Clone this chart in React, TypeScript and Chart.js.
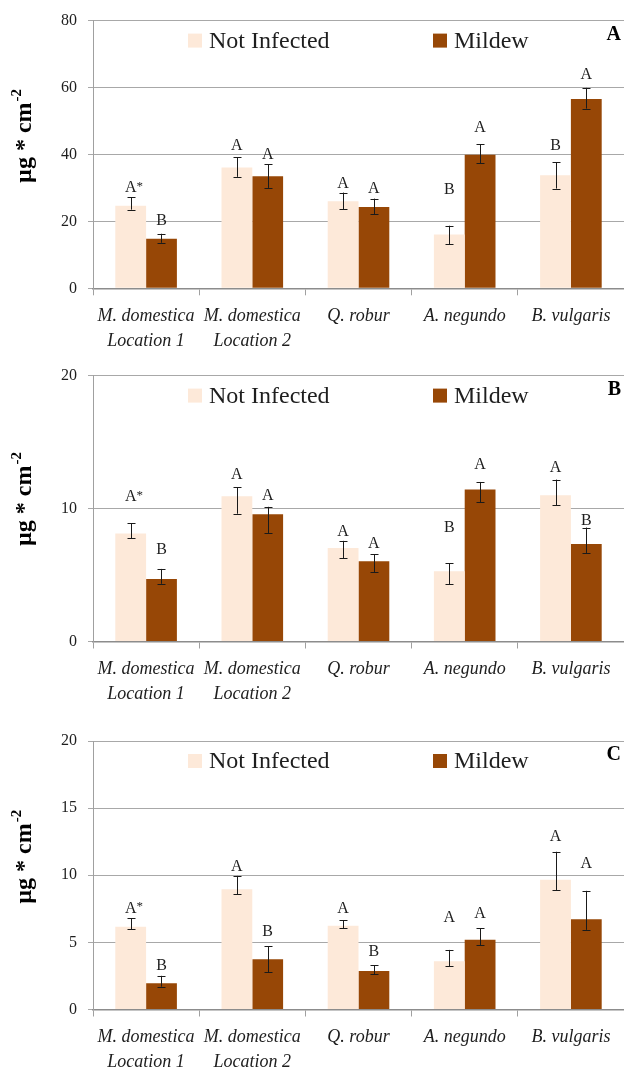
import React, { useEffect, useRef } from 'react';
import { Chart, registerables } from 'chart.js';

Chart.register(...registerables);

// ---------- DATA ----------
const categories: (string | string[])[] = [
  ['M. domestica', 'Location 1'],
  ['M. domestica', 'Location 2'],
  'Q. robur',
  'A. negundo',
  'B. vulgaris',
];
const seriesNames = ['Not Infected', 'Mildew'];

// Panel A
const aNotInfected = [24.7, 36.1, 26.0, 16.1, 33.8];
const aNotInfectedErrUp = [2.5, 3.0, 2.6, 2.6, 3.9];
const aNotInfectedErrDown = [1.2, 2.8, 2.4, 2.9, 4.0];
const aMildew = [14.8, 33.5, 24.3, 39.9, 56.6];
const aMildewErrUp = [1.5, 3.6, 2.5, 3.1, 3.3];
const aMildewErrDown = [1.2, 3.5, 2.2, 2.6, 2.9];
const aNotInfectedLetters = ['A*', 'A', 'A', 'B', 'B'];
const aNotInfectedLetterAt = [29.9, 42.7, 31.3, 29.5, 42.7];
const aMildewLetters = ['B', 'A', 'A', 'A', 'A'];
const aMildewLetterAt = [20.1, 40.0, 29.8, 47.9, 63.9];
const aMax = 80;
const aStep = 20;

// Panel B
const bNotInfected = [8.12, 10.93, 7.03, 5.28, 11.0];
const bNotInfectedErrUp = [0.78, 0.67, 0.54, 0.6, 1.18];
const bNotInfectedErrDown = [0.34, 1.32, 0.75, 0.99, 0.76];
const bMildew = [4.7, 9.57, 6.03, 11.43, 7.33];
const bMildewErrUp = [0.76, 0.56, 0.55, 0.57, 1.24];
const bMildewErrDown = [0.36, 1.42, 0.83, 0.94, 0.67];
const bNotInfectedLetters = ['A*', 'A', 'A', 'B', 'A'];
const bNotInfectedLetterAt = [10.86, 12.55, 8.27, 8.57, 13.1];
const bMildewLetters = ['B', 'A', 'A', 'A', 'B'];
const bMildewLetterAt = [6.9, 10.93, 7.37, 13.3, 9.07];
const bMax = 20;
const bStep = 10;

// Panel C
const cNotInfected = [6.16, 8.96, 6.23, 3.6, 9.67];
const cNotInfectedErrUp = [0.62, 0.99, 0.42, 0.84, 2.08];
const cNotInfectedErrDown = [0.17, 0.36, 0.19, 0.37, 0.79];
const cMildew = [1.95, 3.75, 2.86, 5.2, 6.72];
const cMildewErrUp = [0.56, 0.97, 0.45, 0.87, 2.12];
const cMildewErrDown = [0.25, 0.98, 0.22, 0.4, 0.79];
const cNotInfectedLetters = ['A*', 'A', 'A', 'A', 'A'];
const cNotInfectedLetterAt = [7.52, 10.62, 7.52, 6.85, 12.85];
const cMildewLetters = ['B', 'B', 'B', 'A', 'A'];
const cMildewLetterAt = [3.23, 5.78, 4.3, 7.15, 10.82];
const cMax = 20;
const cStep = 5;

// ---------- STYLE ----------
const FONT = "'Liberation Serif', 'Times New Roman', serif";
const NI_COLOR = '#FDE9D9';
const M_COLOR = '#974706';
const TEXT = '#1e1e1e';

type PanelDef = {
  name: string;
  top: number;
  height: number;
  plotTop: number;
  plotBottom: number;
  max: number;
  step: number;
  values: number[][];
  errUp: number[][];
  errDown: number[][];
  letters: string[][];
  letterAt: number[][];
  titleShift: number;
};

const panels: PanelDef[] = [
  {
    name: 'A', top: 0, height: 355, plotTop: 20, plotBottom: 288.3, max: aMax, step: aStep,
    values: [aNotInfected, aMildew], errUp: [aNotInfectedErrUp, aMildewErrUp],
    errDown: [aNotInfectedErrDown, aMildewErrDown], letters: [aNotInfectedLetters, aMildewLetters],
    letterAt: [aNotInfectedLetterAt, aMildewLetterAt], titleShift: -18,
  },
  {
    name: 'B', top: 355, height: 355, plotTop: 373, plotBottom: 641.5, max: bMax, step: bStep,
    values: [bNotInfected, bMildew], errUp: [bNotInfectedErrUp, bMildewErrUp],
    errDown: [bNotInfectedErrDown, bMildewErrDown], letters: [bNotInfectedLetters, bMildewLetters],
    letterAt: [bNotInfectedLetterAt, bMildewLetterAt], titleShift: -9,
  },
  {
    name: 'C', top: 710, height: 361, plotTop: 741, plotBottom: 1009.5, max: cMax, step: cStep,
    values: [cNotInfected, cMildew], errUp: [cNotInfectedErrUp, cMildewErrUp],
    errDown: [cNotInfectedErrDown, cMildewErrDown], letters: [cNotInfectedLetters, cMildewLetters],
    letterAt: [cNotInfectedLetterAt, cMildewLetterAt], titleShift: -18,
  },
];

const WIDTH = 624;

function makeDecor(p: PanelDef) {
  return {
    id: 'decor' + p.name,
    afterDatasetsDraw(chart: any) {
      const ctx: CanvasRenderingContext2D = chart.ctx;
      const y = chart.scales.y;
      const area = chart.chartArea;
      ctx.save();
      // error bars and significance letters
      for (let d = 0; d < 2; d++) {
        const meta = chart.getDatasetMeta(d);
        meta.data.forEach((el: any, i: number) => {
          const v = p.values[d][i];
          const yt = y.getPixelForValue(v + p.errUp[d][i]);
          const yb = y.getPixelForValue(v - p.errDown[d][i]);
          const x = Math.round(el.x) + 0.5;
          ctx.strokeStyle = '#1a1a1a';
          ctx.lineWidth = 1;
          ctx.beginPath();
          ctx.moveTo(x, yt);
          ctx.lineTo(x, yb);
          ctx.moveTo(x - 4, Math.round(yt) + 0.5);
          ctx.lineTo(x + 4, Math.round(yt) + 0.5);
          ctx.moveTo(x - 4, Math.round(yb) + 0.5);
          ctx.lineTo(x + 4, Math.round(yb) + 0.5);
          ctx.stroke();
          const txt = p.letters[d][i];
          const ly = y.getPixelForValue(p.letterAt[d][i]);
          ctx.fillStyle = TEXT;
          ctx.font = `16px ${FONT}`;
          ctx.textBaseline = 'middle';
          const wA = ctx.measureText(txt[0]).width;
          ctx.textAlign = 'left';
          ctx.fillText(txt[0], el.x - wA / 2, ly);
          if (txt.length > 1) {
            ctx.font = `13px ${FONT}`;
            ctx.fillText(txt.slice(1), el.x + wA / 2, ly - 2);
          }
        });
      }
      // legend
      const cy = area.top + 20;
      const items = [
        { x: area.left + 95, color: NI_COLOR, label: seriesNames[0] },
        { x: area.left + 340, color: M_COLOR, label: seriesNames[1] },
      ];
      items.forEach((it) => {
        ctx.fillStyle = it.color;
        ctx.fillRect(it.x, cy - 7, 14, 14);
        ctx.fillStyle = TEXT;
        ctx.font = `24px ${FONT}`;
        ctx.textAlign = 'left';
        ctx.textBaseline = 'middle';
        ctx.fillText(it.label, it.x + 21, cy + 1);
      });
      // panel letter
      ctx.font = `bold 20px ${FONT}`;
      ctx.textAlign = 'right';
      ctx.textBaseline = 'middle';
      ctx.fillStyle = '#000';
      ctx.fillText(p.name, WIDTH - 3, area.top + 14);
      // y title
      const tcy = (area.top + area.bottom) / 2 + p.titleShift;
      ctx.translate(31, tcy);
      ctx.rotate(-Math.PI / 2);
      ctx.textBaseline = 'alphabetic';
      ctx.textAlign = 'left';
      ctx.font = `bold 24px ${FONT}`;
      const main = 'µg * cm';
      const w1 = ctx.measureText(main).width;
      ctx.font = `bold 15px ${FONT}`;
      const sup = '-2';
      const w2 = ctx.measureText(sup).width;
      const start = -(w1 + w2) / 2;
      ctx.font = `bold 24px ${FONT}`;
      ctx.fillText(main, start, 0);
      ctx.font = `bold 15px ${FONT}`;
      ctx.fillText(sup, start + w1 + 1, -10);
      ctx.restore();
    },
  };
}

function PanelChart({ p }: { p: PanelDef }) {
  const ref = useRef<HTMLCanvasElement>(null);
  useEffect(() => {
    if (!ref.current) return;
    const chart = new Chart(ref.current, {
      type: 'bar',
      data: {
        labels: categories as any,
        datasets: [
          { label: seriesNames[0], data: p.values[0], backgroundColor: NI_COLOR, borderWidth: 0 },
          { label: seriesNames[1], data: p.values[1], backgroundColor: M_COLOR, borderWidth: 0 },
        ],
      },
      options: {
        responsive: false,
        animation: false,
        devicePixelRatio: 1,
        layout: { padding: { top: p.plotTop - p.top, left: 0, right: 0, bottom: 0 } },
        plugins: { legend: { display: false }, tooltip: { enabled: false } },
        datasets: { bar: { categoryPercentage: 0.58, barPercentage: 1 } },
        scales: {
          x: {
            grid: { offset: true, drawOnChartArea: false, drawTicks: true, tickLength: 7, color: '#a0a0a0' },
            border: { color: '#8c8c8c', width: 1.5 },
            ticks: {
              font: { family: FONT, size: 18, style: 'italic', lineHeight: 1.4 },
              color: TEXT,
              padding: 8,
              maxRotation: 0,
              minRotation: 0,
              autoSkip: false,
            },
            afterFit: (s: any) => {
              s.height = p.height - (p.plotBottom - p.top);
            },
          },
          y: {
            min: 0,
            max: p.max,
            ticks: { stepSize: p.step, font: { family: FONT, size: 16 }, color: TEXT, padding: 11 },
            grid: { color: '#a8a8a8', tickLength: 5 },
            border: { color: '#a0a0a0' },
            afterFit: (s: any) => {
              s.width = 93;
            },
          },
        },
      } as any,
      plugins: [makeDecor(p)],
    });
    return () => chart.destroy();
  }, []);
  return (
    <canvas
      ref={ref}
      width={WIDTH}
      height={p.height}
      style={{ position: 'absolute', left: 0, top: p.top, width: WIDTH, height: p.height }}
    />
  );
}

export default function App() {
  return (
    <div style={{ position: 'absolute', left: 0, top: 0, width: WIDTH, height: 1071, background: '#fff', overflow: 'hidden' }}>
      {panels.map((p) => (
        <PanelChart key={p.name} p={p} />
      ))}
    </div>
  );
}
